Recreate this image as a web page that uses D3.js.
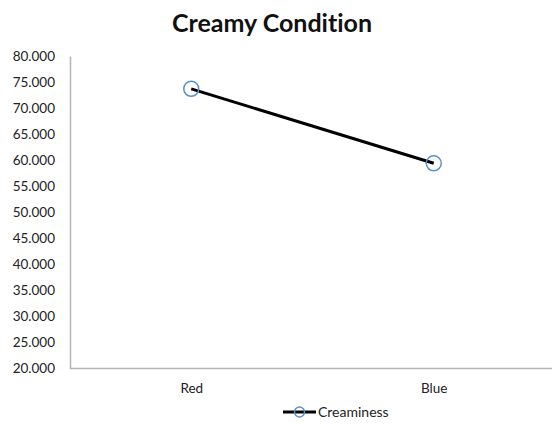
<!DOCTYPE html>
<html><head><meta charset="utf-8">
<script src="https://cdn.jsdelivr.net/npm/d3@7/dist/d3.min.js"></script>
<style>body{margin:0;background:#fff}svg{display:block}text{font-family:Lato,"Open Sans",sans-serif;font-variant-ligatures:none}</style>
</head><body><svg id="c" width="552" height="424"></svg>
<script>
const categories = ["Red", "Blue"];
const creaminess = [73.7, 59.4];
const yTicks = [20,25,30,35,40,45,50,55,60,65,70,75,80];
const seriesName = "Creaminess";
const title = "Creamy Condition";

const svg = d3.select("#c");
const x = d3.scalePoint().domain(categories).range([70, 555]).padding(0.5);
const y = d3.scaleLinear().domain([20, 80]).range([368.5, 56]);

svg.append("text").attr("x", 272).attr("y", 32).attr("text-anchor", "middle")
  .attr("font-size", 25).attr("font-weight", "bold").attr("fill", "#111").text(title);

const ya = svg.append("g").attr("transform", "translate(70,0)")
  .call(d3.axisLeft(y).tickValues(yTicks).tickFormat(d3.format(".3f")).tickSize(0).tickPadding(15));
ya.select(".domain").attr("stroke", "#b5b5b5").attr("stroke-width", 1.5);
ya.selectAll("text").attr("font-size", 13.5).attr("fill", "#222").attr("font-family", "Lato,'Open Sans',sans-serif");

const xa = svg.append("g").attr("transform", "translate(0,368.5)")
  .call(d3.axisBottom(x).tickSize(0).tickPadding(15));
xa.select(".domain").attr("stroke", "#b5b5b5").attr("stroke-width", 1.5).attr("d", "M70,0H552");
xa.selectAll("text").attr("font-size", 13.5).attr("fill", "#222").attr("font-family", "Lato,'Open Sans',sans-serif");

const line = d3.line().x((d, i) => x(categories[i])).y(d => y(d));
svg.append("path").datum(creaminess).attr("d", line).attr("fill", "none")
  .attr("stroke", "#000").attr("stroke-width", 3);
svg.selectAll("circle.m").data(creaminess).join("circle").attr("class", "m")
  .attr("cx", (d, i) => x(categories[i])).attr("cy", d => y(d)).attr("r", 7.5)
  .attr("fill", "none").attr("stroke", "#5b8fd0").attr("stroke-width", 1.5);

const lg = svg.append("g").attr("transform", "translate(283,412)");
lg.append("line").attr("x1", 0).attr("x2", 33).attr("stroke", "#000").attr("stroke-width", 3);
lg.append("circle").attr("cx", 16.5).attr("r", 5).attr("fill", "none").attr("stroke", "#5b8fd0").attr("stroke-width", 1.5);
lg.append("text").attr("x", 35).attr("y", 4.5).attr("font-size", 14).attr("fill", "#222").text(seriesName);
</script></body></html>
